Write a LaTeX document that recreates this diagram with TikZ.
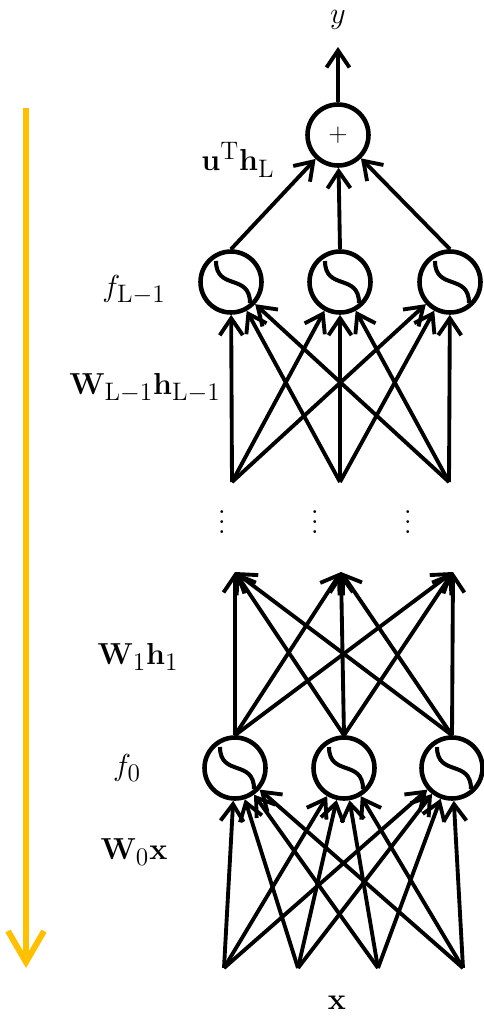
\documentclass[tikz,border=0pt]{standalone}
\usepackage{amsmath,amssymb}
\usepackage{graphicx}
\usetikzlibrary{arrows.meta}
\definecolor{gold}{HTML}{FFC000}

\begin{document}
\begin{tikzpicture}[
    neuron/.style={draw, circle, line width=2.6pt, minimum size=1.22cm, inner sep=0pt,
        path picture={\draw[line width=2.3pt, shift={(path picture bounding box.center)}]
            (-0.30,0.42) .. controls (-0.30,-0.18) and (0.38,0.18) .. (0.38,-0.42);}},
    sumnode/.style={draw, circle, line width=2.6pt, minimum size=1.22cm, inner sep=0pt, font=\Large},
    lbl/.style={font=\fontsize{19}{23}\selectfont},
    dots/.style={font=\fontsize{12}{14}\selectfont, inner sep=0pt},
    arrow/.style={draw, -{Straight Barb[length=0.34cm, width=0.46cm]}, line width=2.2pt}
]
    \useasboundingbox (0,0) rectangle (9.68,-20.34);

    % 输出层
    \node[sumnode] (s) at (6.76, -2.70) {$+$};
    \coordinate (yout) at (6.76, -0.94);
    \node[lbl] (ylab) at (6.76, -0.40) {$y$};
    \draw[arrow] (s) -- (yout);

    % 第 L-1 层
    \node[neuron] (h1) at (4.62, -5.64) {};
    \node[neuron] (h2) at (6.80, -5.64) {};
    \node[neuron] (h3) at (9.00, -5.64) {};
    \draw[arrow] (h1.north) -- (s);
    \draw[arrow] (h2.north) -- (s);
    \draw[arrow] (h3.north) -- (s);

    \coordinate (a1) at (4.64, -9.64);
    \coordinate (a2) at (6.80, -9.64);
    \coordinate (a3) at (8.98, -9.64);
    \path (a1) edge[arrow] (h1) edge[arrow] (h2) edge[arrow] (h3);
    \path (a2) edge[arrow] (h1) edge[arrow] (h2) edge[arrow] (h3);
    \path (a3) edge[arrow] (h1) edge[arrow] (h2) edge[arrow] (h3);

    \node[dots] (d1) at (4.44, -10.30) {\scalebox{1.4}{$\vdots$}};
    \node[dots] (d2) at (6.30, -10.30) {\scalebox{1.4}{$\vdots$}};
    \node[dots] (d3) at (8.16, -10.30) {\scalebox{1.4}{$\vdots$}};

    % 第 0 层
    \node[neuron] (g1) at (4.70, -15.36) {};
    \node[neuron] (g2) at (6.88, -15.36) {};
    \node[neuron] (g3) at (9.04, -15.36) {};

    \coordinate (t1) at (4.70, -11.44);
    \coordinate (t2) at (6.82, -11.44);
    \coordinate (t3) at (9.06, -11.44);
    \path (g1.north) edge[arrow] (t1) edge[arrow] (t2) edge[arrow] (t3);
    \path (g2.north) edge[arrow] (t1) edge[arrow] (t2) edge[arrow] (t3);
    \path (g3.north) edge[arrow] (t1) edge[arrow] (t2) edge[arrow] (t3);

    % 输入
    \coordinate (x1) at (4.48, -19.36);
    \coordinate (x2) at (5.96, -19.36);
    \coordinate (x3) at (7.56, -19.36);
    \coordinate (x4) at (9.26, -19.36);
    \path (x1) edge[arrow] (g1) edge[arrow] (g2) edge[arrow] (g3);
    \path (x2) edge[arrow] (g1) edge[arrow] (g2) edge[arrow] (g3);
    \path (x3) edge[arrow] (g1) edge[arrow] (g2) edge[arrow] (g3);
    \path (x4) edge[arrow] (g1) edge[arrow] (g2) edge[arrow] (g3);
    \node[lbl] (xlab) at (6.74, -20.06) {$\mathbf{x}$};

    % 左侧标注
    \node[lbl] (l1) at (4.76, -3.20) {$\mathbf{u}^{\mathrm{T}}\mathbf{h}_{\mathrm{L}}$};
    \node[lbl] (l2) at (2.68, -5.80) {$f_{\mathrm{L}-1}$};
    \node[lbl] (l3) at (2.90, -7.76) {$\mathbf{W}_{\mathrm{L}-1}\mathbf{h}_{\mathrm{L}-1}$};
    \node[lbl] (l4) at (2.76, -13.14) {$\mathbf{W}_1\mathbf{h}_1$};
    \node[lbl] (l5) at (2.54, -15.36) {$f_0$};
    \node[lbl] (l6) at (2.68, -17.04) {$\mathbf{W}_0\mathbf{x}$};

    % 方向箭头
    \coordinate (top) at (0.52, -2.16);
    \coordinate (bot) at (0.52, -19.36);
    \draw[gold, line width=3.4pt, -{Straight Barb[length=0.62cm, width=0.72cm]}] (top) -- (bot);
\end{tikzpicture}
\end{document}
